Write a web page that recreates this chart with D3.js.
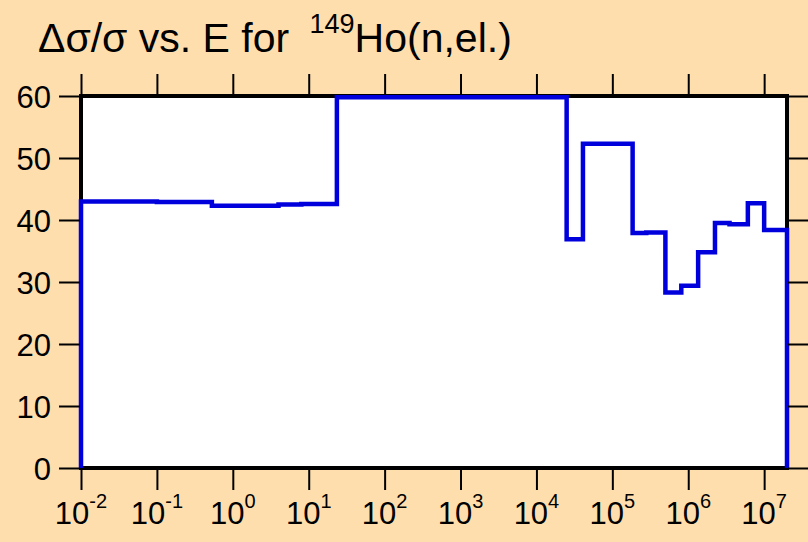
<!DOCTYPE html>
<html>
<head>
<meta charset="utf-8">
<script src="https://cdn.jsdelivr.net/npm/d3@7"></script>
<style>
  html, body { margin: 0; padding: 0; background: #FFDEAD; }
  svg { display: block; font-family: "Liberation Sans", Arial, sans-serif; }
</style>
</head>
<body>
<svg id="chart" width="808" height="542"></svg>
<script>
// Group boundaries (eV) and relative uncertainty (%) per group
const binEdges = [1e-2, 1e-1, 0.53, 4.0, 8.0, 23.5, 2.5e4, 4.1e4, 1.85e5, 2.8e5, 5.0e5, 8.1e5, 1.35e6, 2.25e6, 3.5e6, 6.1e6, 1.0e7, 2.0e7];
const binValues = [43.0, 42.9, 42.3, 42.5, 42.6, 59.8, 36.9, 52.3, 37.9, 38.0, 28.3, 29.4, 34.8, 39.5, 39.3, 42.7, 38.4];
const xTickExponents = [-2, -1, 0, 1, 2, 3, 4, 5, 6, 7];
const yTickValues = [0, 10, 20, 30, 40, 50, 60];

const svg = d3.select("#chart");
const plotL = 81, plotR = 787, plotT = 96, plotB = 468;

const x = d3.scaleLog().domain([1e-2, 2e7]).range([plotL, plotR]);
const y = d3.scaleLinear().domain([0, 60]).range([plotB, plotT]);

// plot area
svg.append("rect")
  .attr("x", plotL).attr("y", plotT)
  .attr("width", plotR - plotL).attr("height", plotB - plotT)
  .attr("fill", "#ffffff");

// frame
svg.append("rect")
  .attr("x", plotL).attr("y", plotT)
  .attr("width", plotR - plotL).attr("height", plotB - plotT)
  .attr("fill", "none")
  .attr("stroke", "#000")
  .attr("stroke-width", 4);

// step outline of the uncertainty histogram
const pts = [[binEdges[0], 0]];
binValues.forEach((v, i) => {
  pts.push([binEdges[i], v]);
  pts.push([binEdges[i + 1], v]);
});
pts.push([binEdges[binEdges.length - 1], 0]);

svg.append("path")
  .datum(pts)
  .attr("fill", "none")
  .attr("stroke", "#0000dd")
  .attr("stroke-width", 4.5)
  .attr("stroke-linejoin", "miter")
  .attr("d", d3.line().x(d => x(d[0])).y(d => y(d[1])));

const tickVals = xTickExponents.map(e => Math.pow(10, e));

// bottom axis
const gB = svg.append("g").attr("transform", `translate(0,${plotB + 1})`)
  .call(d3.axisBottom(x).tickValues(tickVals).tickSize(21).tickFormat(""));
// top axis
const gT = svg.append("g").attr("transform", `translate(0,${plotT - 1})`)
  .call(d3.axisTop(x).tickValues(tickVals).tickSize(21).tickFormat(""));
// left axis
const gL = svg.append("g").attr("transform", `translate(${plotL - 1},0)`)
  .call(d3.axisLeft(y).tickValues(yTickValues).tickSize(21).tickFormat(""));
// right axis
const gR = svg.append("g").attr("transform", `translate(${plotR + 1},0)`)
  .call(d3.axisRight(y).tickValues(yTickValues).tickSize(21).tickFormat(""));

[gB, gT, gL, gR].forEach(g => {
  g.select(".domain").remove();
  g.selectAll(".tick line").attr("stroke", "#000").attr("stroke-width", 2);
});

// y tick labels
svg.append("g").selectAll("text")
  .data(yTickValues)
  .join("text")
  .attr("x", 51)
  .attr("y", d => y(d) + 12)
  .attr("text-anchor", "end")
  .attr("font-size", 31)
  .attr("fill", "#000")
  .text(d => d);

// x tick labels: 10 with superscript exponent
const xl = svg.append("g").selectAll("text")
  .data(xTickExponents)
  .join("text")
  .attr("x", d => x(Math.pow(10, d)))
  .attr("y", 524)
  .attr("text-anchor", "middle")
  .attr("fill", "#000");
xl.append("tspan").attr("font-size", 31).text("10");
xl.append("tspan").attr("font-size", 20).attr("dy", -16).text(d => d);

// title
const t = svg.append("text")
  .attr("x", 38).attr("y", 52)
  .attr("font-size", 41)
  .attr("fill", "#000");
t.append("tspan").text("\u0394\u03c3/\u03c3 vs. E for ");
t.append("tspan").attr("font-size", 27).attr("dx", 9).attr("dy", -19).text("149");
t.append("tspan").attr("dy", 19).text("Ho(n,el.)");
</script>
</body>
</html>
